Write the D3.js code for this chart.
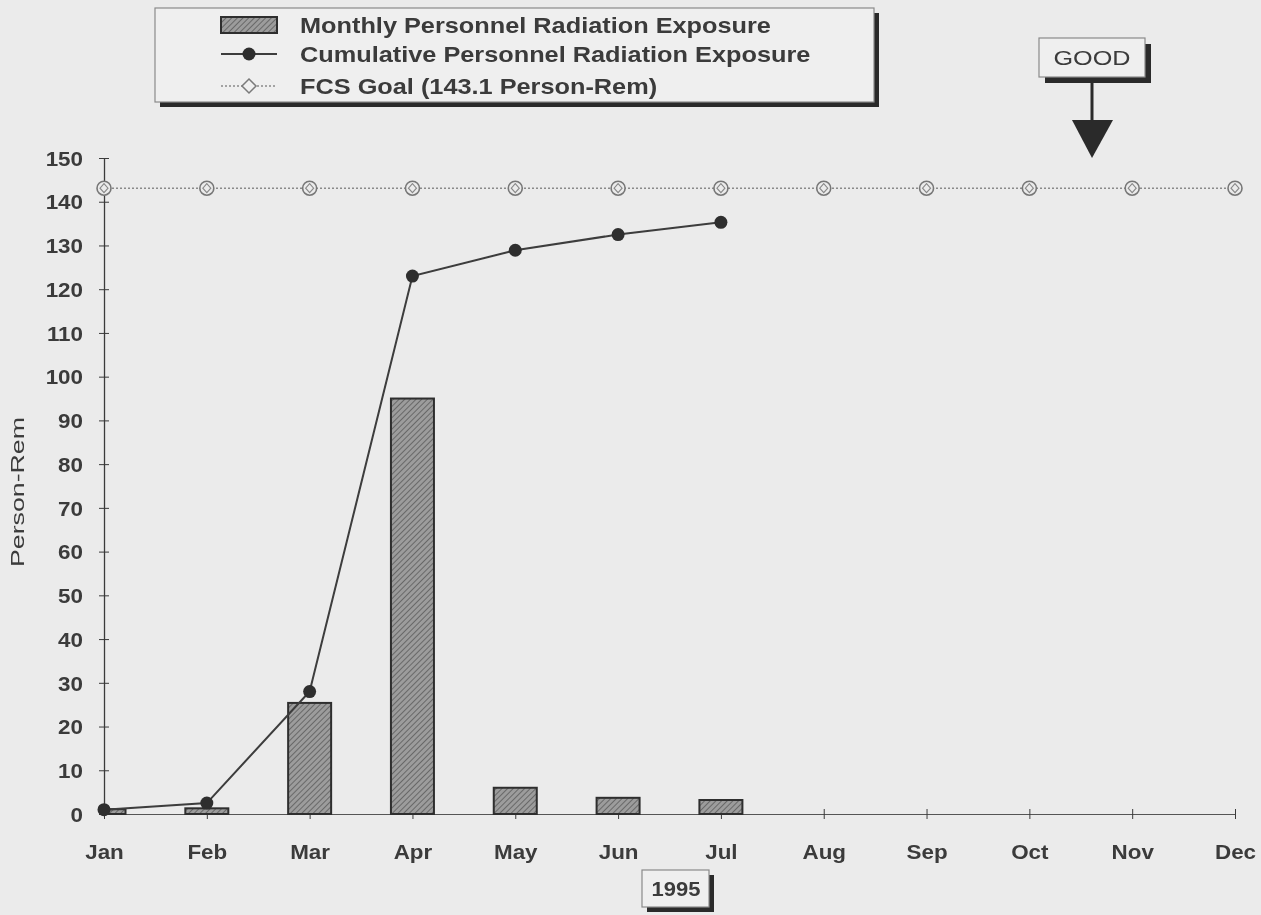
<!DOCTYPE html>
<html>
<head>
<meta charset="utf-8">
<script src="https://cdn.jsdelivr.net/npm/d3@7"></script>
<style>
  html, body { margin: 0; padding: 0; background: #ebebeb; }
  svg { display: block; }
  text { font-family: "Liberation Sans", Arial, sans-serif; fill: #3a3a3a; }
</style>
</head>
<body>
<svg id="chart" width="1261" height="915"></svg>
<script>
// Months on the category axis
const months = ["Jan", "Feb", "Mar", "Apr", "May", "Jun", "Jul", "Aug", "Sep", "Oct", "Nov", "Dec"];
// Monthly personnel radiation exposure (person-rem), Jan–Jul 1995
const monthlyExposure = [1.1, 1.3, 25.4, 95.0, 6.0, 3.7, 3.2];
// Cumulative personnel radiation exposure (person-rem)
const cumulativeExposure = [1.0, 2.5, 28.0, 123.0, 128.9, 132.5, 135.3];
// Annual FCS goal (person-rem)
const goalValue = 143.1;
const goalSeries = months.map(() => goalValue);
// Y axis ticks
const yTicks = d3.range(0, 151, 10);
const legendLabels = [
  "Monthly Personnel Radiation Exposure",
  "Cumulative Personnel Radiation Exposure",
  "FCS Goal (143.1 Person-Rem)"
];

const svg = d3.select("#chart");
const ink = "#3a3a3a";

// soft scan look
const defs = svg.append("defs");
defs.append("filter").attr("id", "soft")
  .append("feGaussianBlur").attr("stdDeviation", 0.55);

const hatch = defs.append("pattern")
  .attr("id", "hatch").attr("patternUnits", "userSpaceOnUse")
  .attr("width", 4).attr("height", 4)
  .attr("patternTransform", "rotate(45)");
hatch.append("rect").attr("width", 4).attr("height", 4).attr("fill", "#9c9c9c");
hatch.append("line").attr("x1", 0).attr("y1", 0).attr("x2", 0).attr("y2", 4)
  .attr("stroke", "#5a5a5a").attr("stroke-width", 1.6);

const root = svg.append("g").attr("filter", "url(#soft)");

// widen glyphs horizontally
function stretch(sel, k) {
  sel.each(function () {
    const w = this.getComputedTextLength();
    d3.select(this).attr("textLength", w * k).attr("lengthAdjust", "spacingAndGlyphs");
  });
}

const x = d3.scalePoint().domain(months).range([104, 1235]);
const y = d3.scaleLinear().domain([0, 150]).range([814, 158]);
const barW = 43;

// plot clip so the January bar stops at the value axis
defs.append("clipPath").attr("id", "plotClip")
  .append("rect").attr("x", 104).attr("y", 100).attr("width", 1150).attr("height", 720);

// Axes
const yAxis = root.append("g").attr("transform", "translate(104,0)")
  .call(d3.axisLeft(y).tickValues(yTicks).tickSizeInner(5).tickSizeOuter(0).tickPadding(16));
yAxis.select(".domain").attr("stroke", ink).attr("stroke-width", 1.3);
yAxis.selectAll(".tick line").attr("stroke", ink).attr("x2", 5).attr("x1", -5);
yAxis.selectAll(".tick text").attr("font-size", 20).attr("fill", ink)
  .attr("font-family", "Liberation Sans, Arial, sans-serif").attr("font-weight", "bold")
  .attr("dy", "0.36em").call(stretch, 1.12);

const xAxis = root.append("g").attr("transform", "translate(0,814)")
  .call(d3.axisBottom(x).tickSizeInner(5).tickSizeOuter(0).tickPadding(26));
xAxis.select(".domain").attr("stroke", "#555").attr("stroke-width", 1.2);
xAxis.selectAll(".tick line").attr("stroke", ink).attr("y1", -5).attr("y2", 5);
xAxis.selectAll(".tick text").attr("font-size", 20).attr("fill", ink)
  .attr("font-family", "Liberation Sans, Arial, sans-serif").attr("font-weight", "bold")
  .call(stretch, 1.12);

// Monthly bars
root.append("g").attr("clip-path", "url(#plotClip)")
  .selectAll("rect").data(monthlyExposure).join("rect")
  .attr("x", (d, i) => x(months[i]) - barW / 2)
  .attr("y", d => y(d))
  .attr("width", barW)
  .attr("height", d => y(0) - y(d))
  .attr("fill", "url(#hatch)")
  .attr("stroke", "#2e2e2e").attr("stroke-width", 2);

// Goal line with markers
const goalLine = d3.line().x((d, i) => x(months[i])).y(d => y(d));
root.append("path").datum(goalSeries)
  .attr("d", goalLine).attr("fill", "none")
  .attr("stroke", "#8a8a8a").attr("stroke-width", 1.6).attr("stroke-dasharray", "2,2");

function goalMarker(g, cx, cy) {
  g.append("circle").attr("cx", cx).attr("cy", cy).attr("r", 7)
    .attr("fill", "#ebebeb").attr("stroke", "#777").attr("stroke-width", 1.6);
  g.append("path")
    .attr("d", `M${cx},${cy - 4.5}L${cx + 4},${cy}L${cx},${cy + 4.5}L${cx - 4},${cy}Z`)
    .attr("fill", "none").attr("stroke", "#888").attr("stroke-width", 1.1);
}
const goalMarks = root.append("g");
goalSeries.forEach((d, i) => goalMarker(goalMarks, x(months[i]), y(d)));

// Cumulative line with markers
const cumLine = d3.line().x((d, i) => x(months[i])).y(d => y(d));
root.append("path").datum(cumulativeExposure)
  .attr("d", cumLine).attr("fill", "none")
  .attr("stroke", "#3c3c3c").attr("stroke-width", 2);
root.append("g").selectAll("circle").data(cumulativeExposure).join("circle")
  .attr("cx", (d, i) => x(months[i])).attr("cy", d => y(d)).attr("r", 6.5)
  .attr("fill", "#2e2e2e");

// Y axis title
root.append("text")
  .attr("transform", "translate(24,492) rotate(-90)")
  .attr("text-anchor", "middle").attr("font-size", 19)
  .style("font-weight", "normal")
  .attr("textLength", 150).attr("lengthAdjust", "spacingAndGlyphs")
  .text("Person-Rem");

// Framed box with a dark drop shadow
function shadowBox(g, bx, by, bw, bh, off) {
  g.append("rect").attr("x", bx + off).attr("y", by + off).attr("width", bw).attr("height", bh)
    .attr("fill", "#2a2a2a");
  g.append("rect").attr("x", bx).attr("y", by).attr("width", bw).attr("height", bh)
    .attr("fill", "#efefef").attr("stroke", "#8a8a8a").attr("stroke-width", 1.2);
}

// Legend
const legend = root.append("g");
shadowBox(legend, 155, 8, 719, 94, 5);
const rowY = [25, 54, 86];
legend.append("rect").attr("x", 221).attr("y", rowY[0] - 8).attr("width", 56).attr("height", 16)
  .attr("fill", "url(#hatch)").attr("stroke", "#2e2e2e").attr("stroke-width", 2);
legend.append("line").attr("x1", 221).attr("x2", 277).attr("y1", rowY[1]).attr("y2", rowY[1])
  .attr("stroke", "#3c3c3c").attr("stroke-width", 2);
legend.append("circle").attr("cx", 249).attr("cy", rowY[1]).attr("r", 6.5).attr("fill", "#2e2e2e");
legend.append("line").attr("x1", 221).attr("x2", 277).attr("y1", rowY[2]).attr("y2", rowY[2])
  .attr("stroke", "#8a8a8a").attr("stroke-width", 1.6).attr("stroke-dasharray", "2,2");
legend.append("path")
  .attr("d", `M249,${rowY[2] - 7}L256,${rowY[2]}L249,${rowY[2] + 7}L242,${rowY[2]}Z`)
  .attr("fill", "#efefef").attr("stroke", "#7a7a7a").attr("stroke-width", 1.5);
legend.selectAll("text.lg").data(legendLabels).join("text")
  .attr("class", "lg")
  .attr("x", 300).attr("y", (d, i) => rowY[i]).attr("dy", "0.36em")
  .attr("font-size", 22).style("font-weight", "bold").text(d => d)
  .call(stretch, 1.15);

// "GOOD" direction indicator
const good = root.append("g");
good.append("line").attr("x1", 1092).attr("x2", 1092).attr("y1", 80).attr("y2", 122)
  .attr("stroke", "#2a2a2a").attr("stroke-width", 3);
good.append("path").attr("d", "M1072,120L1113,120L1092,158Z").attr("fill", "#2a2a2a");
shadowBox(good, 1039, 38, 106, 39, 6);
good.append("text").attr("x", 1092).attr("y", 57).attr("dy", "0.36em")
  .attr("text-anchor", "middle").attr("font-size", 21)
  .style("font-weight", "normal")
  .text("GOOD").call(stretch, 1.2);

// Year label
const yr = root.append("g");
shadowBox(yr, 642, 870, 67, 37, 5);
yr.append("text").attr("x", 676).attr("y", 889).attr("dy", "0.36em")
  .attr("text-anchor", "middle").attr("font-size", 20)
  .style("font-weight", "bold")
  .text("1995").call(stretch, 1.1);
</script>
</body>
</html>
